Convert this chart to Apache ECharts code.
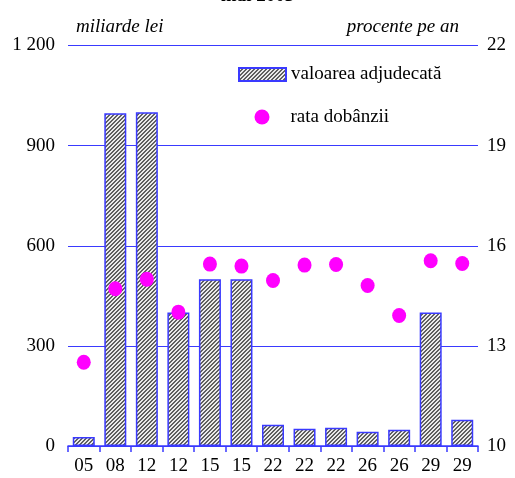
<!DOCTYPE html>
<html><head><meta charset="utf-8">
<script src="https://cdn.jsdelivr.net/npm/echarts@6/dist/echarts.min.js"></script>
<style>html,body{margin:0;padding:0;background:#fff}#c{width:515px;height:478px}</style>
</head><body><div id="c"></div>
<script>
const categories = ['05','08','12','12','15','15','22','22','22','26','26','29','29'];
const amounts = [27, 997, 1000, 400, 500, 500, 64, 52, 55, 43, 49, 400, 79];
const rates = [12.51, 14.71, 15.0, 14.01, 15.45, 15.39, 14.96, 15.42, 15.44, 14.81, 13.91, 15.55, 15.47];
const leftTicks = [0, 300, 600, 900, 1200];
const rightTicks = [10, 13, 16, 19, 22];
const titleText = 'mai 2003';
const leftUnit = 'miliarde lei';
const rightUnit = 'procente pe an';
const barName = 'valoarea adjudecată';
const dotName = 'rata dobânzii';

// hatch pattern
const pc = document.createElement('canvas');
pc.width = 4; pc.height = 4;
const pctx = pc.getContext('2d');
pctx.fillStyle = '#ebebeb'; pctx.fillRect(0,0,4,4);
pctx.fillStyle = '#606060';
for (let x = 0; x < 4; x++) for (let y = 0; y < 4; y++) {
  if (((x + y) % 4) === 3 || ((x + y) % 4) === 0) pctx.fillRect(x, y, 1, 1);
}
const hatch = { image: pc, repeat: 'repeat' };
const blue = '#3a3aff';
const font = 'Liberation Serif';

const chart = echarts.init(document.getElementById('c'), null, {renderer: 'canvas'});
chart.setOption({
  animation: false,
  textStyle: { fontFamily: font },
  grid: { left: 68, right: 37, top: 45.5, bottom: 32 },
  graphic: [
    { type: 'text', left: 'center', top: -13, style: { text: titleText, font: 'bold 19px ' + font, fill: '#000' } },
    { type: 'text', left: 76, top: 17, style: { text: leftUnit, font: 'italic 19px ' + font, fill: '#000' } },
    { type: 'text', right: 56, top: 17, style: { text: rightUnit, font: 'italic 19px ' + font, fill: '#000' } }
  ],
  legend: [
    { data: [barName], left: 238, top: 65, padding: 0, icon: 'rect', itemWidth: 47, itemHeight: 13, itemGap: 0,
      textStyle: { fontFamily: font, fontSize: 19, color: '#000', padding: [0, 0, 0, 0] } },
    { data: [dotName], left: 254.5, top: 107.5, padding: 0, icon: 'circle', itemWidth: 15, itemHeight: 15, itemGap: 0,
      textStyle: { fontFamily: font, fontSize: 19, color: '#000', padding: [0, 0, 0, 16] } }
  ],
  xAxis: {
    type: 'category', data: categories, boundaryGap: true,
    axisLine: { lineStyle: { color: blue, width: 1.5 } },
    axisTick: { show: true, length: 6, lineStyle: { color: blue, width: 1.5 } },
    axisLabel: { color: '#000', fontSize: 19, fontFamily: font, margin: 11 }
  },
  yAxis: [
    { type: 'value', min: 0, max: 1200, interval: 300,
      axisLine: { show: false }, axisTick: { show: false },
      splitLine: { lineStyle: { color: blue, width: 1 } },
      axisLabel: { color: '#000', fontSize: 19, fontFamily: font, margin: 13,
        formatter: v => leftTicks.includes(v) ? String(v).replace(/\B(?=(\d{3})+(?!\d))/g, ' ') : '' } },
    { type: 'value', min: 10, max: 22, interval: 3,
      axisLine: { show: false }, axisTick: { show: false }, splitLine: { show: false },
      axisLabel: { color: '#000', fontSize: 19, fontFamily: font, margin: 9,
        formatter: v => rightTicks.includes(v) ? String(v) : '' } }
  ],
  series: [
    { name: barName, type: 'bar', data: amounts, barWidth: 22, yAxisIndex: 0,
      itemStyle: { color: hatch, borderColor: blue, borderWidth: 1.5 } },
    { name: dotName, type: 'scatter', data: rates, yAxisIndex: 1, symbol: 'circle', symbolSize: [14, 15],
      itemStyle: { color: '#ff00ff', opacity: 1 }, z: 5 }
  ]
});
</script></body></html>
